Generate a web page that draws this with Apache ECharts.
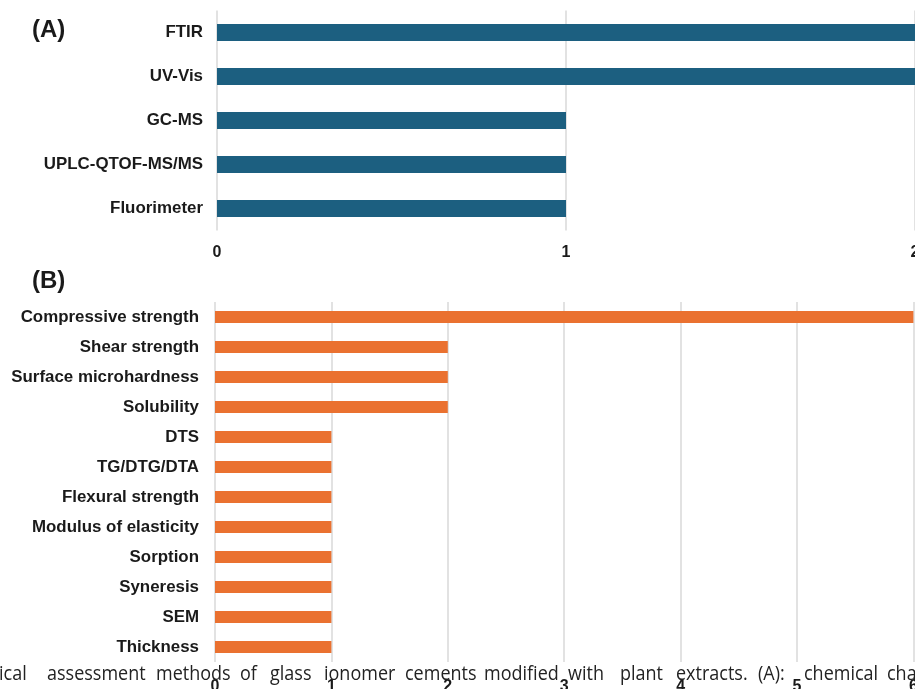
<!DOCTYPE html>
<html>
<head>
<meta charset="utf-8">
<script src="https://cdn.jsdelivr.net/npm/echarts@6/dist/echarts.min.js"></script>
<style>
  html, body { margin: 0; padding: 0; background: #ffffff; }
  #chart { width: 915px; height: 689px; }
</style>
</head>
<body>
<div id="chart"></div>
<script>
// (A) chemical characterisation methods and how often each was used
const chemMethods = ['FTIR', 'UV-Vis', 'GC-MS', 'UPLC-QTOF-MS/MS', 'Fluorimeter'];
const chemCounts = [2, 2, 1, 1, 1];
const chemAxisMax = 3;

// (B) physical / mechanical assessment methods
const physMethods = [
  'Compressive strength', 'Shear strength', 'Surface microhardness', 'Solubility',
  'DTS', 'TG/DTG/DTA', 'Flexural strength', 'Modulus of elasticity',
  'Sorption', 'Syneresis', 'SEM', 'Thickness'
];
const physCounts = [6, 2, 2, 2, 1, 1, 1, 1, 1, 1, 1, 1];
const physAxisMax = 7;

// figure caption running under the panels (justified, so each word is placed)
const captionWords = ['ical', 'assessment', 'methods', 'of', 'glass', 'ionomer', 'cements',
  'modified', 'with', 'plant', 'extracts.', '(A):', 'chemical', 'characterization'];
const captionX = [-1, 47, 156, 240, 270, 324, 405, 484, 568, 620, 676, 758, 804, 887];

const FONT = '"Liberation Sans", Arial, Helvetica, sans-serif';
const INK = '#1a1a1a';
const GRID_LINE = '#d9d9d9';

const chart = echarts.init(document.getElementById('chart'), null, { renderer: 'canvas' });

function valueAxis(gridIndex, max, margin) {
  return {
    type: 'value', gridIndex, min: 0, max, interval: 1,
    axisLine: { show: false }, axisTick: { show: false },
    splitLine: { show: true, lineStyle: { color: GRID_LINE, width: 1.5 } },
    axisLabel: { color: INK, fontFamily: FONT, fontWeight: 'bold', fontSize: 16, margin }
  };
}
function categoryAxis(gridIndex, data, margin) {
  return {
    type: 'category', gridIndex, data, inverse: true,
    axisLine: { show: false }, axisTick: { show: false },
    axisLabel: { color: INK, fontFamily: FONT, fontWeight: 'bold', fontSize: 16.9, margin }
  };
}

const option = {
  backgroundColor: '#ffffff',
  animation: false,
  grid: [
    { left: 217, top: 10.5, width: 349 * chemAxisMax, height: 220,
      containLabel: false, outerBoundsMode: 'none' },
    { left: 215, top: 302, width: 116.4 * physAxisMax, height: 360,
      containLabel: false, outerBoundsMode: 'none' }
  ],
  xAxis: [valueAxis(0, chemAxisMax, 14), valueAxis(1, physAxisMax, 17)],
  yAxis: [categoryAxis(0, chemMethods, 14), categoryAxis(1, physMethods, 16)],
  series: [
    {
      type: 'bar', xAxisIndex: 0, yAxisIndex: 0, data: chemCounts,
      barWidth: '39%', itemStyle: { color: '#1c5f80' }
    },
    {
      type: 'bar', xAxisIndex: 1, yAxisIndex: 1, data: physCounts,
      barWidth: '40%', itemStyle: { color: '#ea7130' }
    }
  ],
  graphic: [
    { type: 'text', left: 32, top: 18, z: 10,
      style: { text: '(A)', fill: INK, font: 'bold 24px ' + FONT } },
    { type: 'text', left: 32, top: 269, z: 10,
      style: { text: '(B)', fill: INK, font: 'bold 24px ' + FONT } }
  ].concat(captionWords.map((w, i) => ({
    type: 'text', x: captionX[i], y: 684, scaleY: 1.14, z: 20,
    style: { text: w, fill: '#222222', font: '18px "Open Sans", "Noto Sans", sans-serif',
             textVerticalAlign: 'bottom', verticalAlign: 'bottom' }
  })))
};

chart.setOption(option);
</script>
</body>
</html>
